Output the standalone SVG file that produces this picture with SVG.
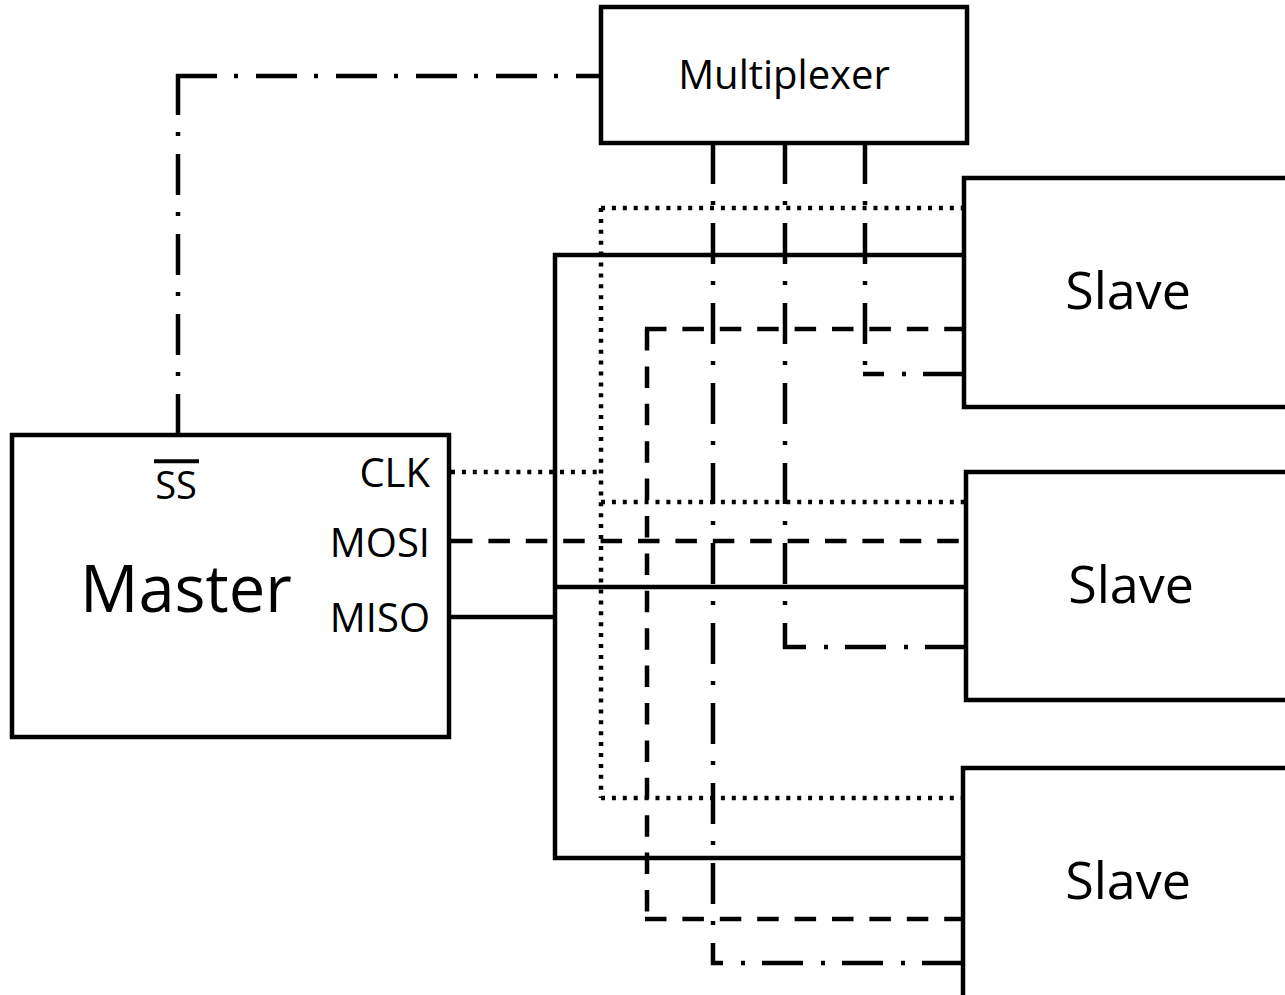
<svg xmlns="http://www.w3.org/2000/svg" width="1285" height="995" viewBox="0 0 1285 995">
  <style>
    .box { fill: #fff; stroke: #000; stroke-width: 4.5; }
    .lbl { font-family: "Open Sans", "Noto Sans", sans-serif; fill: #000; }
    .w { fill: none; stroke: #000; stroke-width: 4.5; stroke-linecap: butt; stroke-linejoin: miter; }
    .clk { stroke-dasharray: 4 6.9; }
    .mosi { stroke-dasharray: 21.5 15.9; }
    .sel { stroke-dasharray: 41 17 4 18; }
  </style>
  <rect width="1285" height="995" fill="#fff"/>

  <!-- signal wiring -->
  <g id="connectors">
    <!-- CLK bus (dotted) -->
    <line class="w clk" x1="451" y1="472" x2="601" y2="472"/>
    <line class="w clk" x1="601" y1="208" x2="601" y2="798"/>
    <line class="w clk" x1="601" y1="208" x2="964" y2="208"/>
    <line class="w clk" x1="601" y1="502" x2="966" y2="502"/>
    <line class="w clk" x1="601" y1="798" x2="963" y2="798"/>

    <!-- MISO bus (solid) -->
    <polyline class="w" points="451,617 555,617"/>
    <line class="w" x1="555" y1="253" x2="555" y2="860"/>
    <line class="w" x1="553" y1="255" x2="964" y2="255"/>
    <line class="w" x1="555" y1="587" x2="966" y2="587"/>
    <line class="w" x1="553" y1="858" x2="963" y2="858"/>

    <!-- MOSI bus (dashed) -->
    <line class="w mosi" x1="451" y1="541" x2="966" y2="541"/>
    <line class="w mosi" x1="647" y1="329" x2="647" y2="919"/>
    <line class="w mosi" x1="645" y1="329" x2="964" y2="329"/>
    <line class="w mosi" x1="645" y1="919" x2="963" y2="919"/>

    <!-- master select to multiplexer (dash-dot) -->
    <line class="w sel" x1="178" y1="74" x2="178" y2="435"/>
    <line class="w sel" x1="176" y1="76" x2="601" y2="76"/>

    <!-- multiplexer select outputs (dash-dot) -->
    <line class="w sel" x1="865" y1="143" x2="865" y2="376"/>
    <line class="w sel" x1="964" y1="374" x2="863" y2="374"/>
    <line class="w sel" x1="785" y1="143" x2="785" y2="649"/>
    <line class="w sel" x1="966" y1="647" x2="783" y2="647"/>
    <line class="w sel" x1="713" y1="143" x2="713" y2="965"/>
    <line class="w sel" x1="963" y1="963" x2="711" y2="963"/>
  </g>

  <g id="master">
    <rect class="box" x="12" y="435" width="437" height="302"/>
    <text class="lbl" x="80" y="612" font-size="65">Master</text>
    <text class="lbl" x="176" y="499" font-size="38" text-anchor="middle">SS</text>
    <line x1="154" y1="461.3" x2="199" y2="461.3" stroke="#000" stroke-width="4"/>
    <text class="lbl" x="430" y="487" font-size="40" text-anchor="end">CLK</text>
    <text class="lbl" x="430" y="557" font-size="40" text-anchor="end">MOSI</text>
    <text class="lbl" x="430" y="632" font-size="40" text-anchor="end">MISO</text>
  </g>

  <g id="multiplexer">
    <rect class="box" x="601" y="7" width="366" height="136"/>
    <text class="lbl" x="784" y="89" font-size="40" text-anchor="middle">Multiplexer</text>
  </g>

  <g id="slave1">
    <rect class="box" x="964" y="178" width="340" height="229"/>
    <text class="lbl" x="1128" y="309" font-size="52" text-anchor="middle">Slave</text>
  </g>

  <g id="slave2">
    <rect class="box" x="966" y="472" width="340" height="228"/>
    <text class="lbl" x="1131" y="603" font-size="52" text-anchor="middle">Slave</text>
  </g>

  <g id="slave3">
    <rect class="box" x="963" y="768" width="340" height="260"/>
    <text class="lbl" x="1128" y="899" font-size="52" text-anchor="middle">Slave</text>
  </g>
</svg>
